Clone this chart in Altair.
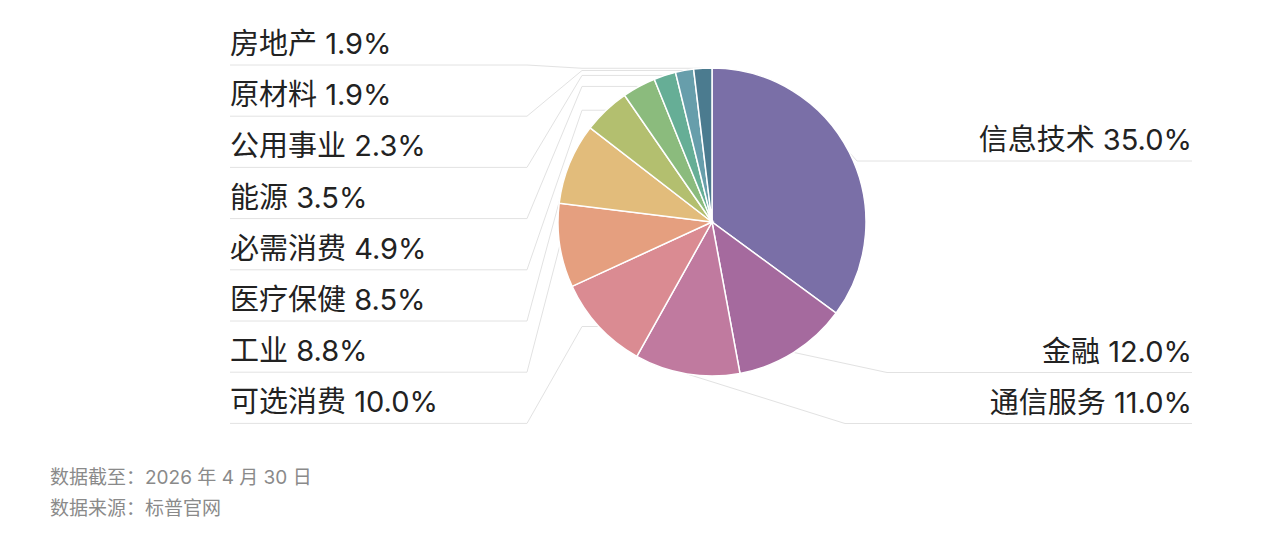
import math
import altair as alt
import pandas as pd

# ---- data ----
names = ["信息技术", "金融", "通信服务", "可选消费", "工业", "医疗保健",
         "必需消费", "能源", "公用事业", "原材料", "房地产"]
values = [35.0, 12.0, 11.0, 10.0, 8.8, 8.5, 4.9, 3.5, 2.3, 1.9, 1.9]
colors = ["#7a6fa7", "#a56a9e", "#c07a9f", "#da8b92", "#e59f7f", "#e2bc7b",
          "#b3bf6f", "#8bbb7d", "#66ae96", "#679eab", "#4b7b8f"]
footnotes = ["数据截至：2026 年 4 月 30 日", "数据来源：标普官网"]

# ---- layout (image pixel coordinates) ----
W, H = 1264, 527
CX, CY, R = 712, 222, 154
LEFT_X, LEFT_ELBOW, LEFT_KNEE = 230, 527, 582
RIGHT_X = 1192
right_rows = {"信息技术": (161, 857), "金融": (372.5, 887), "通信服务": (423.5, 845)}
ROW0, ROW_STEP = 65, 51.2

total = sum(values)
pie_rows, line_rows, left_rows, right_rows_out = [], [], [], []
cum = 0.0
for i, (n, v) in enumerate(zip(names, values)):
    mid = (cum + v / 2) / total * 2 * math.pi
    cum += v
    ex, ey = CX + R * math.sin(mid), CY - R * math.cos(mid)
    label = f"{n} {v:.1f}%"
    pie_rows.append({"idx": i, "name": n, "value": v})
    pts = [(ex, ey)]
    if n in right_rows:
        uy, bx = right_rows[n]
        pts += [(bx, uy), (RIGHT_X, uy)]
        right_rows_out.append({"label": label, "x": RIGHT_X, "y": uy - 11})
    else:
        uy = ROW0 + ROW_STEP * (len(names) - 1 - i)
        if ex > LEFT_KNEE:
            pts.append((LEFT_KNEE, ey))
        pts += [(LEFT_ELBOW, uy), (LEFT_X, uy)]
        left_rows.append({"label": label, "x": LEFT_X, "y": uy - 11})
    for k, (px, py) in enumerate(pts):
        line_rows.append({"name": n, "pt": k, "x": px, "y": py})

pie_df = pd.DataFrame(pie_rows)
line_df = pd.DataFrame(line_rows)
left_df = pd.DataFrame(left_rows)
right_df = pd.DataFrame(right_rows_out)
foot_df = pd.DataFrame({"t": footnotes, "x": [50, 50], "y": [484, 515]})

xs = alt.Scale(domain=[8, 8 + W], range=[0, W], zero=False, nice=False)
ys = alt.Scale(domain=[8, 8 + H], range=[0, H], zero=False, nice=False)
FONT = "Inter, 'Noto Sans CJK SC'"

lines = alt.Chart(line_df).mark_line(color="#e2e2e2", strokeWidth=1).encode(
    x=alt.X("x:Q", scale=xs, axis=None),
    y=alt.Y("y:Q", scale=ys, axis=None),
    detail="name:N",
    order="pt:Q",
)

arc = alt.Chart(pie_df).mark_arc(outerRadius=R, stroke="white", strokeWidth=1.5).encode(
    theta=alt.Theta("value:Q", stack=True),
    color=alt.Color("name:N", scale=alt.Scale(domain=names, range=colors), legend=None),
    order=alt.Order("idx:Q"),
    x=alt.datum(CX),
    y=alt.datum(CY),
)

left_text = alt.Chart(left_df).mark_text(
    font=FONT, fontSize=29, color="#222222", align="left", baseline="alphabetic"
).encode(x="x:Q", y="y:Q", text="label:N")

right_text = alt.Chart(right_df).mark_text(
    font=FONT, fontSize=29, color="#222222", align="right", baseline="alphabetic"
).encode(x="x:Q", y="y:Q", text="label:N")

foot = alt.Chart(foot_df).mark_text(
    font=FONT, fontSize=19, color="#8a8a8a", align="left", baseline="alphabetic"
).encode(x="x:Q", y="y:Q", text="t:N")

chart = alt.layer(lines, arc, left_text, right_text, foot).properties(
    width=W, height=H, padding=0, autosize=alt.AutoSizeParams(type="none"),
    background="white",
).configure_view(stroke=None)

chart.save("out.html", embed_options={"renderer": "svg", "actions": False})
